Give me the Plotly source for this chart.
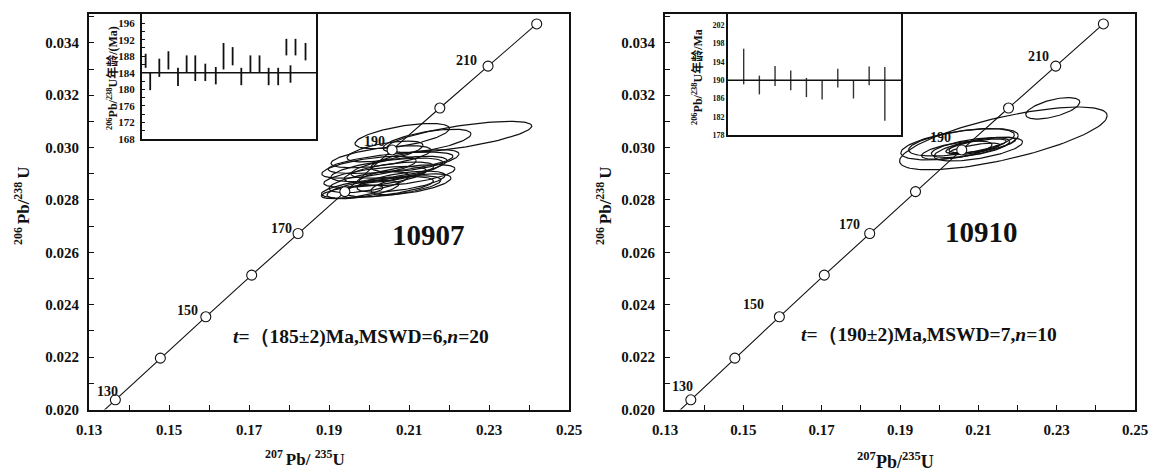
import numpy as np
import plotly.graph_objects as go

# ---------------- data ----------------
# concordia reference points (age in Ma, 207Pb/235U, 206Pb/238U)
conc_age = [125, 130, 140, 150, 160, 170, 180, 190, 200, 210, 220]
conc_x = [0.13100, 0.13659, 0.14784, 0.15920, 0.17067, 0.18226, 0.19396, 0.20577, 0.21771, 0.22976, 0.24193]
conc_y = [0.01958, 0.02037, 0.02196, 0.02354, 0.02513, 0.02672, 0.02832, 0.02991, 0.03151, 0.03311, 0.03472]
label_ages = [130, 150, 170, 190, 210]

# sample 10907 error ellipses
a_cx = [0.2083, 0.2145, 0.2226, 0.2054, 0.2021, 0.1958, 0.2040, 0.2030, 0.2075, 0.2050,
        0.2095, 0.2015, 0.2080, 0.2000, 0.2060, 0.2105, 0.2000, 0.2115, 0.1985, 0.2045]
a_cy = [0.03044, 0.03025, 0.03041, 0.02942, 0.02848, 0.02831, 0.02985, 0.02965, 0.02925, 0.02905,
        0.02895, 0.02888, 0.02870, 0.02868, 0.02852, 0.02860, 0.02925, 0.02950, 0.02840, 0.02915]
a_sx = [0.0118, 0.0110, 0.0181, 0.0156, 0.0140, 0.0077, 0.0095, 0.0125, 0.0120, 0.0112,
        0.0120, 0.0128, 0.0110, 0.0100, 0.0120, 0.0100, 0.0118, 0.0110, 0.0090, 0.0140]
a_sy = [0.00048, 0.00045, 0.00059, 0.00041, 0.00041, 0.00026, 0.00040, 0.00042, 0.00042, 0.00040,
        0.00040, 0.00040, 0.00040, 0.00040, 0.00040, 0.00040, 0.00042, 0.00042, 0.00035, 0.00045]
a_rho = [0.6, 0.6, 0.7, 0.6, 0.6, 0.6, 0.6, 0.6, 0.6, 0.6,
         0.6, 0.6, 0.6, 0.6, 0.6, 0.6, 0.6, 0.6, 0.6, 0.6]

# sample 10910 error ellipses
b_cx = [0.2290, 0.2164, 0.2052, 0.2057, 0.2100, 0.2094, 0.2090, 0.2080, 0.2045, 0.2110]
b_cy = [0.03150, 0.03035, 0.03013, 0.03020, 0.02994, 0.03005, 0.02995, 0.03000, 0.02990, 0.03010]
b_sx = [0.0069, 0.0265, 0.0150, 0.0135, 0.0113, 0.0077, 0.0065, 0.0100, 0.0090, 0.0085]
b_sy = [0.00041, 0.00120, 0.00060, 0.00052, 0.00045, 0.00028, 0.00022, 0.00038, 0.00035, 0.00030]
b_rho = [0.58, 0.72, 0.55, 0.55, 0.6, 0.7, 0.7, 0.6, 0.6, 0.65]

# inset: 206Pb/238U ages (Ma), bar low / high
a_spot = [0.4, 0.9, 1.9, 2.9, 3.95, 4.9, 5.85, 6.95, 8.1, 8.95,
          9.95, 10.9, 11.9, 12.9, 13.9, 14.95, 15.85, 16.3, 16.85, 17.95]
a_lo = [185.2, 179.8, 183.0, 184.8, 180.8, 184.0, 182.0, 182.0, 181.2, 184.8,
        185.8, 181.0, 184.0, 184.0, 181.0, 181.0, 188.2, 181.6, 188.2, 187.0]
a_hi = [188.6, 184.0, 187.4, 189.2, 185.2, 188.2, 188.2, 186.2, 185.4, 191.2,
        190.2, 185.2, 188.2, 188.2, 185.2, 185.2, 192.2, 185.8, 192.2, 191.2]
a_mean = 184

b_spot = [1, 2, 3, 4, 5, 6, 7, 8, 9, 10]
b_lo = [189.1, 186.9, 188.75, 187.8, 186.3, 185.8, 188.4, 186.0, 188.9, 181.1]
b_hi = [196.9, 191.0, 193.1, 192.1, 190.5, 189.9, 192.5, 189.9, 193.0, 192.9]
b_mean = 190

x_ticks = [0.13, 0.15, 0.17, 0.19, 0.21, 0.23, 0.25]
y_ticks = [0.020, 0.022, 0.024, 0.026, 0.028, 0.030, 0.032, 0.034]
a_inset_ticks = [168, 172, 176, 180, 184, 188, 192, 196]
b_inset_ticks = [178, 182, 186, 190, 194, 198, 202]

# ---------------- helpers ----------------
SERIF = "Liberation Serif"
W, H = 1149, 474
INK = "#111"


def px(x):
    return x / W


def py(y):
    return 1 - y / H


def bold(vals, fmt):
    return ["<b>" + (fmt % v) + "</b>" for v in vals]


def ellipses(cx, cy, sx, sy, rho, n=120):
    xs, ys = [], []
    t = np.linspace(0, 2 * np.pi, n)
    for a, b, c, d, r in zip(cx, cy, sx, sy, rho):
        xs += list(a + c * np.cos(t)) + [None]
        ys += list(b + d * (r * np.cos(t) + np.sqrt(1 - r * r) * np.sin(t))) + [None]
    return xs, ys


def bars(xv, lo, hi):
    xs, ys = [], []
    for a, l, h in zip(xv, lo, hi):
        xs += [a, a, None]
        ys += [l, h, None]
    return xs, ys


fig = go.Figure()

panels = [
    dict(xa="x", ya="y", ell=(a_cx, a_cy, a_sx, a_sy, a_rho)),
    dict(xa="x2", ya="y2", ell=(b_cx, b_cy, b_sx, b_sy, b_rho)),
]
for p in panels:
    ex, ey = ellipses(*p["ell"])
    fig.add_trace(go.Scatter(x=ex, y=ey, mode="lines", xaxis=p["xa"], yaxis=p["ya"],
                             line=dict(color=INK, width=1.2), hoverinfo="skip"))
    fig.add_trace(go.Scatter(x=conc_x, y=conc_y, mode="lines", xaxis=p["xa"], yaxis=p["ya"],
                             line=dict(color=INK, width=1.1), hoverinfo="skip"))
    fig.add_trace(go.Scatter(x=conc_x[1:], y=conc_y[1:], mode="markers", xaxis=p["xa"], yaxis=p["ya"],
                             marker=dict(size=10, color="white", line=dict(color=INK, width=1.1)),
                             cliponaxis=False))

# insets
bx, by = bars(a_spot, a_lo, a_hi)
fig.add_trace(go.Scatter(x=bx, y=by, mode="lines", xaxis="x3", yaxis="y3",
                         line=dict(color=INK, width=1.8)))
bx, by = bars(b_spot, b_lo, b_hi)
fig.add_trace(go.Scatter(x=bx, y=by, mode="lines", xaxis="x4", yaxis="y4",
                         line=dict(color="#333", width=1.4)))
fig.add_shape(type="line", xref="x3 domain", yref="y3", x0=0, x1=1, y0=a_mean, y1=a_mean,
              line=dict(color=INK, width=1.6))
fig.add_shape(type="line", xref="x4 domain", yref="y4", x0=0, x1=1, y0=b_mean, y1=b_mean,
              line=dict(color=INK, width=1.4))

# ---------------- axes ----------------
tickfont = dict(family=SERIF, size=15, color=INK)
ydom = [py(409.5), py(14)]


def main_x(dom, anchor):
    return dict(domain=dom, range=[0.13, 0.25], tickmode="array", tickvals=x_ticks,
                ticktext=bold(x_ticks, "%.2f"), anchor=anchor, automargin=False,
                ticklabeloverflow="allow",
                ticks="inside", ticklen=5, tickwidth=1.3, tickcolor=INK,
                minor=dict(ticks="inside", dtick=0.01, tick0=0.13, ticklen=5, tickwidth=1.3, tickcolor=INK),
                showline=True, mirror=True, linewidth=2, linecolor=INK,
                showgrid=False, zeroline=False, tickfont=tickfont, ticklabelstandoff=5)


def main_y(dom, anchor):
    return dict(domain=dom, range=[0.020, 0.0351], tickmode="array", tickvals=y_ticks,
                ticktext=bold(y_ticks, "%.3f"), anchor=anchor, automargin=False,
                ticks="inside", ticklen=5, tickwidth=1.3, tickcolor=INK,
                minor=dict(ticks="inside", dtick=0.001, tick0=0.020, ticklen=5, tickwidth=1.3, tickcolor=INK),
                showline=True, mirror=True, linewidth=2, linecolor=INK,
                showgrid=False, zeroline=False, tickfont=tickfont, ticklabelstandoff=5)


fig.update_layout(
    template="none",
    xaxis=main_x([px(89), px(569)], "y"),
    yaxis=main_y(ydom, "x"),
    xaxis2=main_x([px(665), px(1135)], "y2"),
    yaxis2=main_y(ydom, "x2"),
    xaxis3=dict(domain=[px(142), px(316)], range=[0, 19.1], anchor="y3", showticklabels=False,
                ticks="", showline=True, mirror=True, linewidth=2, linecolor=INK,
                showgrid=False, zeroline=False, automargin=False),
    yaxis3=dict(domain=[py(139), py(14)], range=[168, 198.2], anchor="x3", side="left",
                tickmode="array", tickvals=a_inset_ticks, ticktext=bold(a_inset_ticks, "%d"),
                ticks="inside", ticklen=3, tickwidth=1, tickcolor=INK,
                minor=dict(ticks="inside", dtick=2, tick0=168, ticklen=3, tickwidth=1, tickcolor=INK),
                showline=True, mirror=True, linewidth=2, linecolor=INK, automargin=False,
                showgrid=False, zeroline=False, ticklabelposition="outside", ticklabelstandoff=3,
                ticklabeloverflow="allow",
                tickfont=dict(family=SERIF, size=11, color=INK)),
    xaxis4=dict(domain=[px(728), px(901)], range=[0, 11.03], anchor="y4", showticklabels=False,
                ticks="", showline=True, mirror=True, linewidth=1.8, linecolor=INK,
                showgrid=False, zeroline=False, automargin=False),
    yaxis4=dict(domain=[py(135), py(14)], range=[178, 204.5], anchor="x4",
                tickmode="array", tickvals=b_inset_ticks, ticktext=bold(b_inset_ticks, "%d"),
                ticks="", showline=True, mirror=True, linewidth=1.8, linecolor=INK,
                showgrid=False, zeroline=False, automargin=False,
                tickfont=dict(family=SERIF, size=8, color=INK)),
    width=W, height=H, margin=dict(l=0, r=0, t=0, b=0, pad=0),
    paper_bgcolor="white", plot_bgcolor="white", showlegend=False,
)

# ---------------- annotations ----------------
ann = []
lab_font = dict(family=SERIF, size=14, color=INK)
offsets = {
    "x": [(-8, -8), (-18, -6), (-17, -5), (-18, -8), (-22, -6)],
    "x2": [(-8, -13), (-26, -12), (-20, -9), (-21, -12), (-17, -10)],
}
for xa, ya in [("x", "y"), ("x2", "y2")]:
    for (dx, dy), age in zip(offsets[xa], label_ages):
        i = conc_age.index(age)
        ann.append(dict(x=conc_x[i], y=conc_y[i], xref=xa, yref=ya, text="<b>%d</b>" % age,
                        showarrow=False, xanchor="center", yanchor="middle",
                        xshift=dx, yshift=-dy, font=lab_font))


def paper_text(xp, yp, text, font, angle=0):
    ann.append(dict(x=px(xp), y=py(yp), xref="paper", yref="paper", text=text,
                    showarrow=False, xanchor="center", yanchor="middle",
                    textangle=angle, font=font))


big = dict(family=SERIF, size=29, color=INK)
paper_text(428, 235, "<b>10907</b>", big)
paper_text(981, 232, "<b>10910</b>", big)

tf = dict(family=SERIF, size=19.5, color=INK)
paper_text(361, 337, "<b><i>t</i>=（185±2)Ma,MSWD=6,<i>n</i>=20</b>", tf)
paper_text(929, 335, "<b><i>t</i>=（190±2)Ma,MSWD=7,<i>n</i>=10</b>", tf)

titlef = dict(family=SERIF, size=17, color=INK)
paper_text(305, 458, "<b><sup>207 </sup>Pb/ <sup>235</sup>U</b>", titlef)
paper_text(895, 460, "<b><sup>207</sup>Pb/<sup>235</sup>U</b>", dict(titlef, size=18))
paper_text(22, 206, "<b><sup>206 </sup>Pb/<sup>238 </sup>U</b>", titlef, -90)
paper_text(604, 206, "<b><sup>206 </sup>Pb/<sup>238 </sup>U</b>", titlef, -90)

insf = dict(family=SERIF + ", Noto Sans CJK SC", size=12, color=INK)
paper_text(112, 78, "<b><sup>206</sup>Pb/<sup>238</sup>U年龄/(Ma)</b>", insf, -90)
paper_text(697, 77, "<b><sup>206</sup>Pb/<sup>238</sup>U年龄/Ma</b>", insf, -90)

fig.update_layout(annotations=ann)
fig.write_html("out.html", config={"displayModeBar": False},
               post_script="document.body.style.margin='0px';document.body.style.overflow='hidden';")
